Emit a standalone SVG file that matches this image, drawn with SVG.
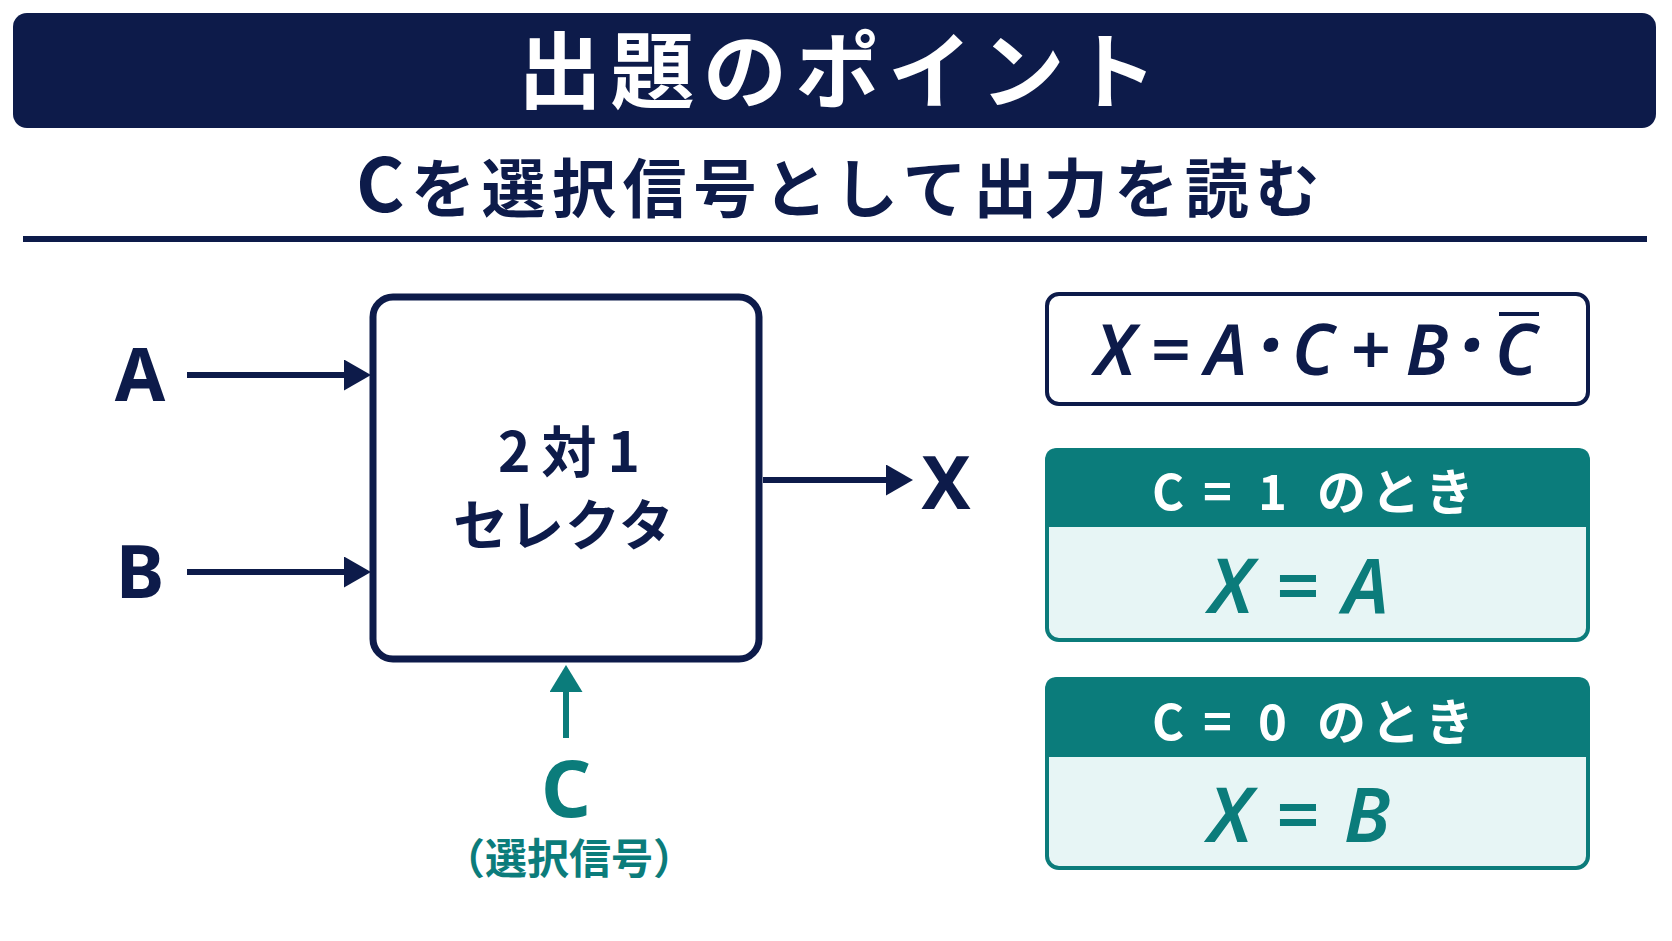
<svg xmlns="http://www.w3.org/2000/svg" width="1672" height="941" viewBox="0 0 1672 941">
<defs>
<style>
.navy{fill:#0d1b4a}
.teal{fill:#0b7c7b}
.jp{font-family:"Noto Sans CJK JP","Noto Sans",sans-serif;font-weight:700}
.lat{font-family:"Noto Sans","Liberation Sans",sans-serif;font-weight:700}
.ital{font-family:"Noto Sans","Open Sans","Liberation Sans",sans-serif;font-weight:600;font-style:italic}
.wire{stroke:#0d1b4a;stroke-width:6;fill:none}
.twire{stroke:#0b7c7b;stroke-width:6;fill:none}
</style>
<marker id="ahNavy" markerUnits="userSpaceOnUse" markerWidth="27" markerHeight="31" viewBox="0 0 27 31" refX="11" refY="15.5" orient="auto">
<path d="M0,0 L27,15.5 L0,31 Z" fill="#0d1b4a"/>
</marker>
<marker id="ahTeal" markerUnits="userSpaceOnUse" markerWidth="27" markerHeight="33" viewBox="0 0 27 33" refX="11" refY="16.5" orient="auto">
<path d="M0,0 L27,16.5 L0,33 Z" fill="#0b7c7b"/>
</marker>
</defs>
<rect width="1672" height="941" fill="#ffffff"/>

<g id="title">
<rect x="13" y="13" width="1643" height="115" rx="14" class="navy"/>
<text x="518" y="102" class="jp" font-size="84" letter-spacing="8.5" fill="#ffffff">出題のポイント</text>
</g>

<g id="subtitle">
<text x="356" y="212" class="jp navy" font-size="64" letter-spacing="6.5"><tspan font-size="74">C</tspan>を選択信号として出力を読む</text>
<rect x="23" y="236" width="1624" height="6" class="navy"/>
</g>

<g id="connectors">
<line x1="187" y1="375" x2="355" y2="375" class="wire" marker-end="url(#ahNavy)"/>
<line x1="187" y1="572" x2="355" y2="572" class="wire" marker-end="url(#ahNavy)"/>
<line x1="763" y1="480" x2="897" y2="480" class="wire" marker-end="url(#ahNavy)"/>
<line x1="566" y1="738" x2="566" y2="681" class="twire" marker-end="url(#ahTeal)"/>
</g>

<g id="mux">
<rect x="373" y="297" width="386" height="362" rx="20" fill="#ffffff" stroke="#0d1b4a" stroke-width="7"/>
<text x="498" y="472" class="jp navy" font-size="55" letter-spacing="11">2対1</text>
<text x="453" y="545" class="jp navy" font-size="55" letter-spacing="1">セレクタ</text>
</g>

<g id="input-a">
<text x="140" y="401" class="lat navy" font-size="73" text-anchor="middle">A</text>
</g>
<g id="input-b">
<text x="140" y="598" class="lat navy" font-size="73" text-anchor="middle">B</text>
</g>
<g id="output-x">
<text x="946" y="509" class="lat navy" font-size="74" text-anchor="middle">X</text>
</g>
<g id="select-c">
<text x="566" y="817" class="lat teal" font-size="78" text-anchor="middle">C</text>
<text x="569" y="874" class="jp teal" font-size="42" text-anchor="middle">（選択信号）</text>
</g>

<g id="formula">
<rect x="1047" y="294" width="541" height="110" rx="12" fill="#ffffff" stroke="#0d1b4a" stroke-width="4"/>
<text y="375" class="ital navy" font-size="70" text-anchor="middle"><tspan x="1115">X</tspan><tspan x="1170">=</tspan><tspan x="1226">A</tspan><tspan x="1270" font-size="84" font-weight="700">·</tspan><tspan x="1313">C</tspan><tspan x="1370">+</tspan><tspan x="1427">B</tspan><tspan x="1471" font-size="84" font-weight="700">·</tspan><tspan x="1516">C</tspan></text>
<line x1="1499" y1="314" x2="1539" y2="314" stroke="#0d1b4a" stroke-width="4"/>
</g>

<g id="case-c1">
<rect x="1047" y="450" width="541" height="190" rx="12" fill="#e7f5f5" stroke="#0b7c7b" stroke-width="4"/>
<path d="M1045,527 V461 Q1045,448 1058,448 H1577 Q1590,448 1590,461 V527 Z" class="teal"/>
<text y="510" class="jp" font-size="49" fill="#ffffff"><tspan x="1152">C </tspan><tspan x="1203">= </tspan><tspan x="1258">1 </tspan><tspan x="1317" letter-spacing="5">のとき</tspan></text>
<text y="613" class="ital teal" font-size="76" text-anchor="middle"><tspan x="1231">X</tspan><tspan x="1297">=</tspan><tspan x="1366">A</tspan></text>
</g>

<g id="case-c0">
<rect x="1047" y="679" width="541" height="189" rx="12" fill="#e7f5f5" stroke="#0b7c7b" stroke-width="4"/>
<path d="M1045,757 V690 Q1045,677 1058,677 H1577 Q1590,677 1590,690 V757 Z" class="teal"/>
<text y="740" class="jp" font-size="49" fill="#ffffff"><tspan x="1152">C </tspan><tspan x="1203">= </tspan><tspan x="1258">0 </tspan><tspan x="1317" letter-spacing="5">のとき</tspan></text>
<text y="842" class="ital teal" font-size="76" text-anchor="middle"><tspan x="1230">X</tspan><tspan x="1297">=</tspan><tspan x="1367">B</tspan></text>
</g>
</svg>
